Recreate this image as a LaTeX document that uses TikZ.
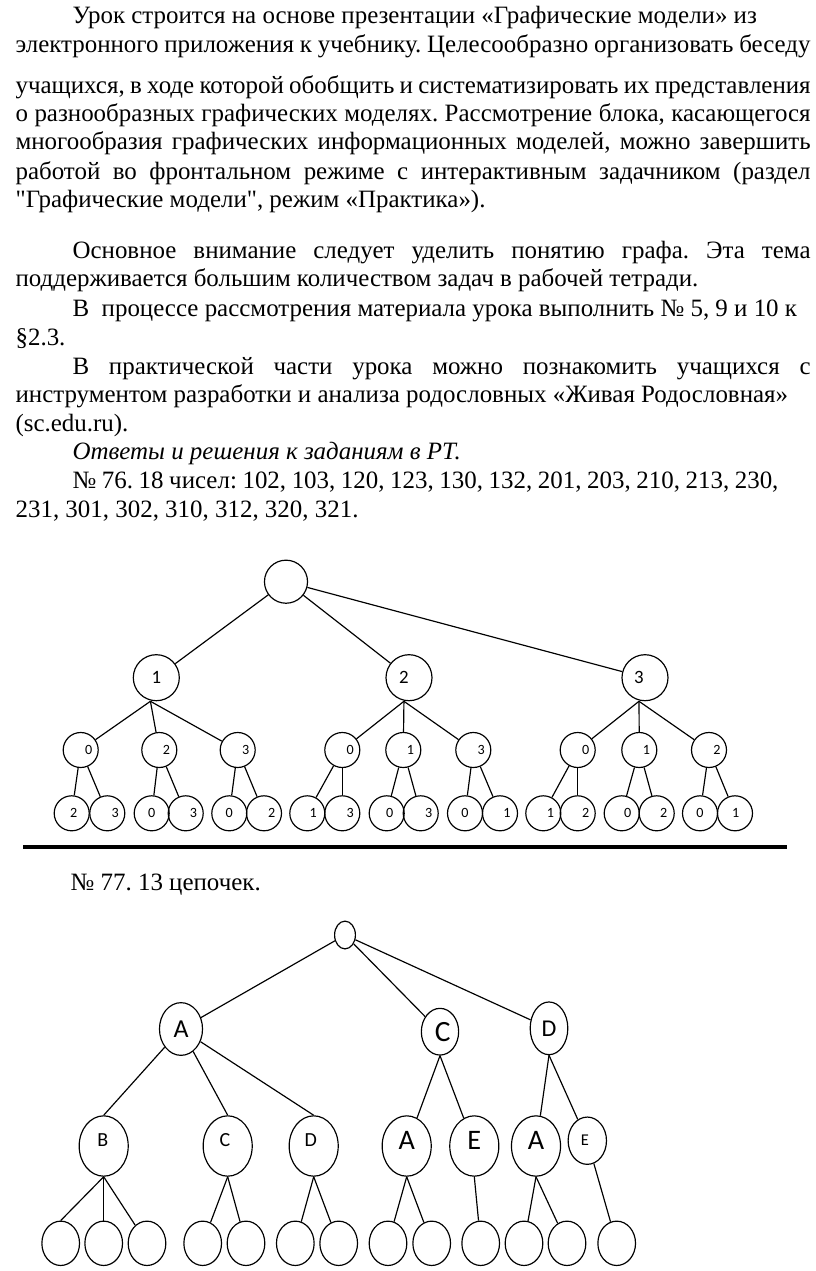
\documentclass[tikz,border=0pt]{standalone}
\usepackage{fontspec}
\setmainfont{Liberation Serif}[Ligatures=TeXOff]
\setsansfont{Carlito}
\usetikzlibrary{shapes.geometric}

\newcommand{\jline}[2]{\makebox[#1][s]{#2}}
\frenchspacing

\begin{document}
\begin{tikzpicture}[x=0.85pt, y=-0.85pt, line width=1pt,
    txt/.style={anchor=base west, inner sep=0pt, font=\fontsize{21.2}{24}\selectfont},
    vtx/.style={circle, draw, inner sep=0pt},
    big/.style 2 args={vtx, minimum size=39.1pt, label={[font=\sffamily\fontsize{16}{16}\selectfont, xshift=#1]center:#2}},
    sm/.style 2 args={vtx, minimum size=29.75pt, label={[font=\sffamily\fontsize{12}{12}\selectfont, xshift=#1]center:#2}},
    oval/.style 2 args={ellipse, draw, inner sep=0pt, minimum width=#1, minimum height=#2},
    mid/.style={oval={41.7pt}{51.3pt}},
    leaf/.style={oval={32pt}{37.7pt}},
    lt/.style={font=\sffamily\fontsize{#1}{#1}\selectfont}]
    \fill[white] (0,0) rectangle (816,1271);

    % text of the page
    \node[txt] (l1) at (72,24) {Урок строится на основе презентации «Графические модели» из};
    \node[txt] (l2) at (15,53) {\jline{675.8pt}{электронного приложения к учебнику. Целесообразно организовать беседу}};
    \node[txt] (l3) at (15,94) {\jline{675.8pt}{учащихся, в ходе которой обобщить и систематизировать их представления}};
    \node[txt] (l4) at (15,122) {\jline{675.8pt}{о разнообразных графических моделях. Рассмотрение блока, касающегося}};
    \node[txt] (l5) at (15,150) {\jline{675.8pt}{многообразия графических информационных моделей, можно завершить}};
    \node[txt] (l6) at (15,179) {\jline{675.8pt}{работой во фронтальном режиме с интерактивным задачником (раздел}};
    \node[txt] (l7) at (15,207) {"Графические модели", режим «Практика»).};
    \node[txt] (l8) at (72,258) {\jline{627.3pt}{Основное внимание следует уделить понятию графа. Эта тема}};
    \node[txt] (l9) at (15,286) {поддерживается большим количеством задач в рабочей тетради.};
    \node[txt] (l10) at (72,316) {В\ \ процессе рассмотрения материала урока выполнить № 5, 9 и 10 к};
    \node[txt] (l11) at (15,345) {§2.3.};
    \node[txt] (l12) at (72,374) {\jline{627.3pt}{В практической части урока можно познакомить учащихся с}};
    \node[txt] (l13) at (15,402) {инструментом разработки и анализа родословных «Живая Родословная»};
    \node[txt] (l14) at (15,431) {(sc.edu.ru).};
    \node[txt] (l15) at (72,459) {\itshape Ответы и решения к заданиям в РТ.};
    \node[txt] (l16) at (72,488) {\jline{600pt}{№ 76. 18 чисел: 102, 103, 120, 123, 130, 132, 201, 203, 210, 213, 230,}};
    \node[txt] (l17) at (15,517) {231, 301, 302, 310, 312, 320, 321.};

    % tree of numbers (No 76)
    \node[vtx, minimum size=36.6pt] (r) at (286,581.7) {};
    \node[big={0pt}{1}] (n1) at (156.3,677.7) {};
    \node[big={-4.3pt}{2}] (n2) at (409,677.7) {};
    \node[big={-5.1pt}{3}] (n3) at (645,677.7) {};
    \node[sm={6.8pt}{0}] (a0) at (80.7,750) {};
    \node[sm={6pt}{2}] (a2) at (159.3,750) {};
    \node[sm={6.8pt}{3}] (a3) at (237.7,750) {};
    \node[sm={6.8pt}{0}] (b0) at (342.3,750) {};
    \node[sm={6pt}{1}] (b1) at (403.3,750) {};
    \node[sm={6.8pt}{3}] (b3) at (473.3,750) {};
    \node[sm={6.8pt}{0}] (c0) at (577.7,750) {};
    \node[sm={6pt}{1}] (c1) at (639.3,750) {};
    \node[sm={6.8pt}{2}] (c2) at (709,750) {};
    \node[sm={1.7pt}{2}] (a0l) at (71.7,813.3) {};
    \node[sm={6.8pt}{3}] (a0r) at (107.3,813.3) {};
    \node[sm={0pt}{0}] (a2l) at (151.7,813.3) {};
    \node[sm={6.5pt}{3}] (a2r) at (185.7,813.3) {};
    \node[sm={0pt}{0}] (a3l) at (229.3,813.3) {};
    \node[sm={6.5pt}{2}] (a3r) at (264,813.3) {};
    \node[sm={5.1pt}{1}] (b0l) at (307.3,813.3) {};
    \node[sm={6.8pt}{3}] (b0r) at (342.3,813.3) {};
    \node[sm={2.5pt}{0}] (b1l) at (386.7,813.3) {};
    \node[sm={6.8pt}{3}] (b1r) at (420.7,813.3) {};
    \node[sm={0pt}{0}] (b3l) at (465,813.3) {};
    \node[sm={6pt}{1}] (b3r) at (500,813.3) {};
    \node[sm={6pt}{1}] (c0l) at (543.3,813.3) {};
    \node[sm={6.8pt}{2}] (c0r) at (577.7,813.3) {};
    \node[sm={5.1pt}{0}] (c1l) at (621.7,813.3) {};
    \node[sm={6pt}{2}] (c1r) at (656.7,813.3) {};
    \node[sm={0pt}{0}] (c2l) at (700,813.3) {};
    \node[sm={0.5pt}{1}] (c2r) at (735,813.3) {};
    \draw (r) -- (n1);
    \draw (r) -- (n2);
    \draw (r) -- (n3);
    \draw ([xshift=-5pt]n1.south) -- (a0);
    \draw ([xshift=-5pt]n1.south) -- (a2);
    \draw ([xshift=-5pt]n1.south) -- (a3);
    \draw ([xshift=-4.3pt]n2.south) -- (b0);
    \draw ([xshift=-4.3pt]n2.south) -- (b1);
    \draw ([xshift=-4.3pt]n2.south) -- (b3);
    \draw ([xshift=-5.1pt]n3.south) -- (c0);
    \draw ([xshift=-5.1pt]n3.south) -- (c1);
    \draw ([xshift=-5.1pt]n3.south) -- (c2);
    \draw (a0) -- (a0l);
    \draw (a0) -- (a0r);
    \draw (a2) -- (a2l);
    \draw (a2) -- (a2r);
    \draw (a3) -- (a3l);
    \draw (a3) -- (a3r);
    \draw (b0) -- (b0l);
    \draw (b0) -- (b0r);
    \draw (b1) -- (b1l);
    \draw (b1) -- (b1r);
    \draw (b3) -- (b3l);
    \draw (b3) -- (b3r);
    \draw (c0) -- (c0l);
    \draw (c0) -- (c0r);
    \draw (c1) -- (c1l);
    \draw (c1) -- (c1r);
    \draw (c2) -- (c2l);
    \draw (c2) -- (c2r);

    \draw[line width=2.6pt] (23,847) coordinate (rule0) -- (787,847) coordinate (rule1);

    \node[txt] (l18) at (70,890) {№ 77. 13 цепочек.};

    % tree of chains (No 77)
    \node[oval={17.7pt}{23.6pt}] (t) at (345,935) {};
    \node[oval={36.6pt}{44.8pt}, lt=22] (A) at (181,1029) {A};
    \node[oval={31.7pt}{39.7pt}, label={[lt=25, xshift=2.3pt]center:C}] (C) at (440,1031.7) {};
    \node[oval={32pt}{44.8pt}, lt=20.5] (D) at (549,1028.3) {D};
    \node[mid, label={[lt=17, yshift=4.7pt, xshift=-0.8pt]center:B}] (AB) at (103.7,1146) {};
    \node[mid, label={[lt=17, yshift=4.7pt, xshift=-2.3pt]center:C}] (AC) at (227.7,1146) {};
    \node[mid, label={[lt=17, yshift=4.7pt, xshift=-2.5pt]center:D}] (AD) at (313.7,1146) {};
    \node[mid, label={[lt=24, yshift=4.5pt]center:A}] (CA) at (406.7,1146) {};
    \node[mid, label={[lt=24, yshift=4.5pt]center:E}] (CE) at (474.3,1146) {};
    \node[mid, label={[lt=24, yshift=4.5pt]center:A}] (DA) at (536,1146) {};
    \node[oval={32.6pt}{40.2pt}, label={[lt=14, xshift=-2pt]center:E}] (DE) at (587.3,1140.7) {};
    \node[leaf] (q1) at (60.7,1243.3) {};
    \node[leaf] (q2) at (103.7,1243.3) {};
    \node[leaf] (q3) at (147,1243.3) {};
    \node[leaf] (q4) at (202.7,1243.3) {};
    \node[leaf] (q5) at (246,1243.3) {};
    \node[leaf] (q6) at (295.3,1243.3) {};
    \node[leaf] (q7) at (338.7,1243.3) {};
    \node[leaf] (q8) at (388,1243.3) {};
    \node[leaf] (q9) at (431.7,1243.3) {};
    \node[leaf] (q10) at (480.7,1243.3) {};
    \node[leaf] (q11) at (524,1243.3) {};
    \node[leaf] (q12) at (567,1243.3) {};
    \node[leaf] (q13) at (616.7,1243.3) {};
    \draw (t) -- (A);
    \draw (t) -- (C);
    \draw (t) -- (D);
    \draw (A) -- (AB.north);
    \draw (A) -- (AC.north);
    \draw (A) -- (AD.north);
    \draw (C.south) -- (CA);
    \draw (C.south) -- (CE);
    \draw (D.south) -- (DA);
    \draw (D.south) -- (DE);
    \draw (AB.south) -- (q1.north);
    \draw (AB.south) -- (q2);
    \draw (AB.south) -- (q3);
    \draw (AC.south) -- (q4);
    \draw (AC.south) -- (q5);
    \draw (AD.south) -- (q6);
    \draw (AD.south) -- (q7);
    \draw (CA.south) -- (q8);
    \draw (CA.south) -- (q9);
    \draw (CE.south) -- (q10);
    \draw (DA.south) -- (q11);
    \draw (DA.south) -- (q12);
    \draw (DE) -- (q13);
\end{tikzpicture}
\end{document}
